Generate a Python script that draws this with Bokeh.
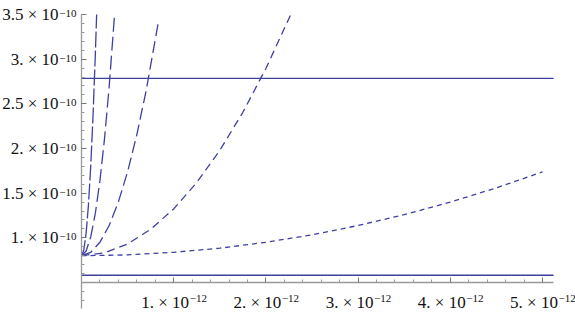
from bokeh.plotting import figure
from bokeh.models import Range1d, FixedTicker, Label
from bokeh.embed import file_html
from bokeh.resources import INLINE

X_UNIT = 1e-12
Y_UNIT = 1e-10

# dashed curves (x in 1e-12, y in 1e-10)
c1_x = [0, 0.025, 0.05, 0.075, 0.1, 0.125, 0.15, 0.1643]
c1_y = [0.8, 0.863, 1.05, 1.363, 1.80, 2.363, 3.05, 3.50]
c2_x = [0, 0.05, 0.1, 0.15, 0.2, 0.25, 0.3, 0.3586]
c2_y = [0.8, 0.853, 1.01, 1.273, 1.64, 2.113, 2.69, 3.50]
c3_x = [0, 0.1, 0.2, 0.3, 0.4, 0.5, 0.6, 0.7, 0.837]
c3_y = [0.8, 0.838, 0.95, 1.138, 1.402, 1.74, 2.154, 2.642, 3.434]
c4_x = [0, 0.25, 0.5, 0.75, 1.0, 1.25, 1.5, 1.75, 2.0, 2.27]
c4_y = [0.8, 0.833, 0.931, 1.095, 1.324, 1.619, 1.979, 2.405, 2.896, 3.50]
c5_x = [0, 0.5, 1.0, 1.5, 2.0, 2.5, 3.0, 3.5, 4.0, 4.5, 5.0]
c5_y = [0.8, 0.809, 0.838, 0.884, 0.95, 1.034, 1.138, 1.259, 1.40, 1.559, 1.738]

# horizontal reference levels (1e-10), drawn across the x extent
h_levels = [2.786, 0.581]
h_x = [0, 5.12]

# ticks
y_major = [1.0, 1.5, 2.0, 2.5, 3.0, 3.5]
y_major_labels = ["1.", "1.5", "2.", "2.5", "3.", "3.5"]
y_minor = [0.3, 0.4, 0.6, 0.7, 0.8, 0.9, 1.1, 1.2, 1.3, 1.4, 1.6, 1.7, 1.8, 1.9,
           2.1, 2.2, 2.3, 2.4, 2.6, 2.7, 2.8, 2.9, 3.1, 3.2, 3.3, 3.4]
x_major = [1, 2, 3, 4, 5]
x_major_labels = ["1.", "2.", "3.", "4.", "5."]
x_minor = [0.2, 0.4, 0.6, 0.8, 1.2, 1.4, 1.6, 1.8, 2.2, 2.4, 2.6, 2.8,
           3.2, 3.4, 3.6, 3.8, 4.2, 4.4, 4.6, 4.8]

LINE = "#3f3fa3"
AXIS = "#999999"
FONT = "Liberation Serif"
TXT = "#111111"
PAD = "\u00a0" * 4

p = figure(width=575, height=312, output_backend="svg", toolbar_location=None,
           x_range=Range1d(-0.8785 * X_UNIT, 5.358 * X_UNIT),
           y_range=Range1d(0.1642 * Y_UNIT, 3.6567 * Y_UNIT),
           min_border=0, min_border_left=0, min_border_right=0,
           min_border_top=0, min_border_bottom=0)
p.outline_line_color = None
p.xgrid.visible = False
p.ygrid.visible = False
p.background_fill_color = "white"
p.border_fill_color = "white"

for ax in (p.xaxis[0], p.yaxis[0]):
    ax.axis_line_color = AXIS
    ax.axis_line_width = 1.3
    ax.major_tick_line_color = "#777777"
    ax.minor_tick_line_color = "#999999"
    ax.major_tick_in = 5
    ax.major_tick_out = 0
    ax.minor_tick_in = 3
    ax.minor_tick_out = 0
    ax.major_label_text_font = FONT
    ax.major_label_text_font_size = "17px"
    ax.major_label_text_color = TXT

p.xaxis.fixed_location = 0.5 * Y_UNIT
p.xaxis.bounds = (0, 5.12 * X_UNIT)
p.yaxis.fixed_location = 0
p.yaxis.bounds = (0.21 * Y_UNIT, 3.5 * Y_UNIT)
p.xaxis.ticker = FixedTicker(ticks=[v * X_UNIT for v in x_major],
                             minor_ticks=[v * X_UNIT for v in x_minor])
p.yaxis.ticker = FixedTicker(ticks=[v * Y_UNIT for v in y_major],
                             minor_ticks=[v * Y_UNIT for v in y_minor])
p.yaxis.major_label_overrides = {v * Y_UNIT: t + " × 10" for v, t in zip(y_major, y_major_labels)}
p.xaxis.major_label_overrides = {v * X_UNIT: t + " × 10" + PAD for v, t in zip(x_major, x_major_labels)}
p.yaxis.major_label_standoff = 23
p.xaxis.major_label_standoff = 10

for lv in h_levels:
    p.line([v * X_UNIT for v in h_x], [lv * Y_UNIT] * len(h_x),
           line_color=LINE, line_width=1.3)

curves = [(c1_x, c1_y, "16 3"), (c2_x, c2_y, "14 5"), (c3_x, c3_y, "12 5"),
          (c4_x, c4_y, "8 5"), (c5_x, c5_y, "5 4")]
for xs, ys, dash in curves:
    p.line([v * X_UNIT for v in xs], [v * Y_UNIT for v in ys],
           line_color=LINE, line_width=1.3, line_dash=dash)

for v in y_major:
    p.add_layout(Label(x=0, y=v * Y_UNIT, x_offset=-5, y_offset=1, text="−10",
                       text_align="right", text_baseline="alphabetic",
                       text_font=FONT, text_font_size="11px", text_color=TXT))

for v in x_major:
    p.add_layout(Label(x=v * X_UNIT, y=0.5 * Y_UNIT, x_offset=16, y_offset=-16, text="−12",
                       text_align="left", text_baseline="alphabetic",
                       text_font=FONT, text_font_size="11px", text_color=TXT))

open("out.html", "w").write(file_html(p, INLINE))
